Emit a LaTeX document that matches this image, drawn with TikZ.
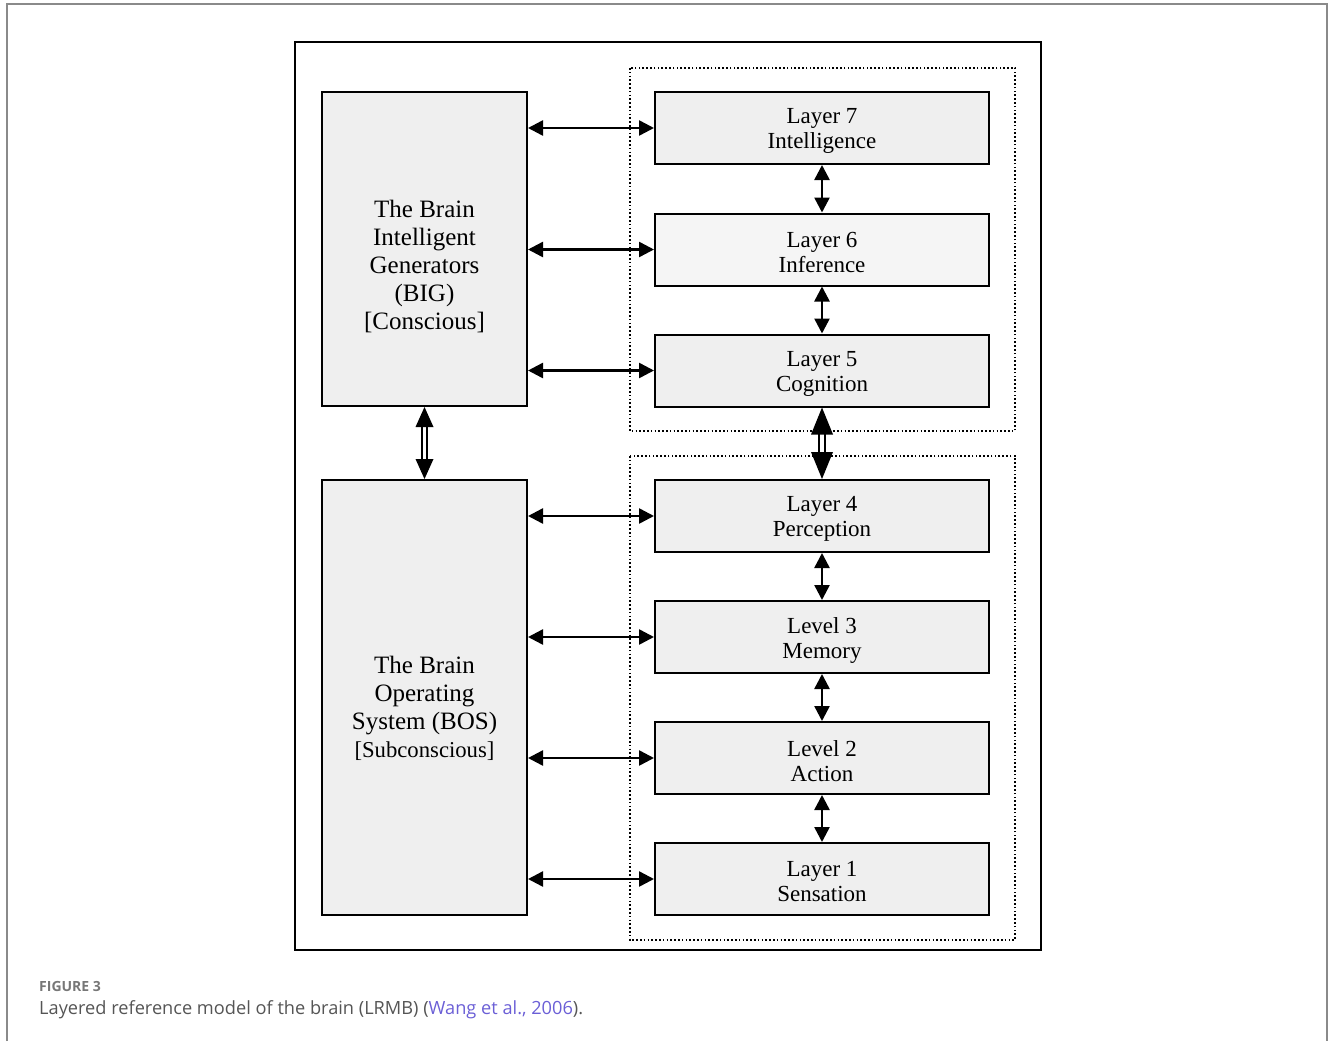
\documentclass[tikz,border=0pt]{standalone}
\usepackage{fontspec}
\setmainfont{Liberation Serif}
\newfontfamily\capfont{Open Sans}
\usetikzlibrary{arrows.meta,calc}
\definecolor{boxfill}{HTML}{EFEFEF}
\definecolor{framegray}{HTML}{8A8A8A}
\definecolor{captext}{HTML}{555555}
\definecolor{caplink}{HTML}{6B5FD6}
\tikzset{
  layer/.style={draw, line width=2pt, fill=boxfill, minimum width=334pt, minimum height=72pt,
    inner sep=0pt},
  layertext/.style={align=center, inner sep=0pt, yshift=-3pt, font=\fontsize{23}{25}\selectfont},
  bigbox/.style={draw, line width=2pt, fill=boxfill, minimum width=205pt, inner sep=0pt},
  bigtext/.style={align=center, inner sep=0pt, font=\fontsize{25}{28}\selectfont},
  group/.style={draw, line width=1.4pt, dash pattern=on 1.6pt off 2.2pt},
  biarrow/.style={line width=2.5pt, {Triangle[length=15pt,width=15pt]}-{Triangle[length=15pt,width=15pt]}},
  dblstem/.style={draw, line width=2pt, double distance=3.5pt},
}
\begin{document}
\begin{tikzpicture}[x=1pt,y=-1pt]
\useasboundingbox (0,0) rectangle (1330,1041);
% page frame
\draw[framegray, line width=1.6pt] (7,1041) -- (7,4) -- (1327,4) -- (1327,1041);
% figure border
\draw[line width=1.6pt] (295,42) rectangle (1041,950);
% dotted groupings
\draw[group] (630,68) rectangle (1015,431);
\draw[group] (630,456) rectangle (1015,940);
% left blocks
\node[bigbox, minimum height=314pt,
  label={[bigtext, yshift=-17pt]center:{The Brain\\Intelligent\\Generators\\(BIG)\\{}[Conscious]}}]
  (big) at (424.5,249) {};
\node[bigbox, minimum height=435pt,
  label={[bigtext, yshift=-11pt]center:{The Brain\\Operating\\System (BOS)\\{\fontsize{22.7}{26}\selectfont[Subconscious]}}}]
  (bos) at (424.5,697.5) {};
% layers
\node[layer, label={[layertext]center:{Layer 7\\Intelligence}}] (l7) at (822,128) {};
\node[layer, fill=boxfill!60!white, label={[layertext]center:{Layer 6\\Inference}}] (l6) at (822,249.5) {};
\node[layer, label={[layertext]center:{Layer 5\\Cognition}}] (l5) at (822,370.5) {};
\node[layer, label={[layertext]center:{Layer 4\\Perception}}] (l4) at (822,516) {};
\node[layer, label={[layertext]center:{Level 3\\Memory}}] (l3) at (822,637) {};
\node[layer, label={[layertext]center:{Level 2\\Action}}] (l2) at (822,758) {};
\node[layer, label={[layertext]center:{Layer 1\\Sensation}}] (l1) at (822,879) {};
% links between the blocks and the layers
\foreach \l in {l7,l6,l5}{\draw[biarrow] (big.east |- \l) -- (\l.west);}
\foreach \l in {l4,l3,l2,l1}{\draw[biarrow] (bos.east |- \l) -- (\l.west);}
% links between neighbouring layers
\draw[biarrow] (l7.south) -- (l6.north);
\draw[biarrow] (l6.south) -- (l5.north);
\draw[biarrow] (l4.south) -- (l3.north);
\draw[biarrow] (l3.south) -- (l2.north);
\draw[biarrow] (l2.south) -- (l1.north);
% double-line link BIG <-> BOS
\draw[dblstem] ($(big.south)+(0,18)$) -- ($(bos.north)+(0,-18)$);
\fill (big.south) -- ++(-9,20) -- ++(18,0) -- cycle;
\fill (bos.north) -- ++(-9,-20) -- ++(18,0) -- cycle;
% double-line link Layer 5 <-> Layer 4
\draw[dblstem] ($(l5.south)+(0,24)$) -- ($(l4.north)+(0,-24)$);
\fill (l5.south) -- ++(-11,27) -- ++(22,0) -- cycle;
\fill (l4.north) -- ++(-11,-27) -- ++(22,0) -- cycle;
% caption
\node[anchor=base west, inner sep=0pt, font=\capfont\bfseries\fontsize{14}{16}\selectfont, text=captext!80!white] (fig) at (39,991) {FIGURE 3};
\node[anchor=base west, inner sep=0pt, font=\capfont\fontsize{18.2}{22}\selectfont, text=captext] (cap) at (39,1014) {Layered reference model of the brain (LRMB) (\textcolor{caplink}{Wang et al., 2006}).};
\end{tikzpicture}
\end{document}
